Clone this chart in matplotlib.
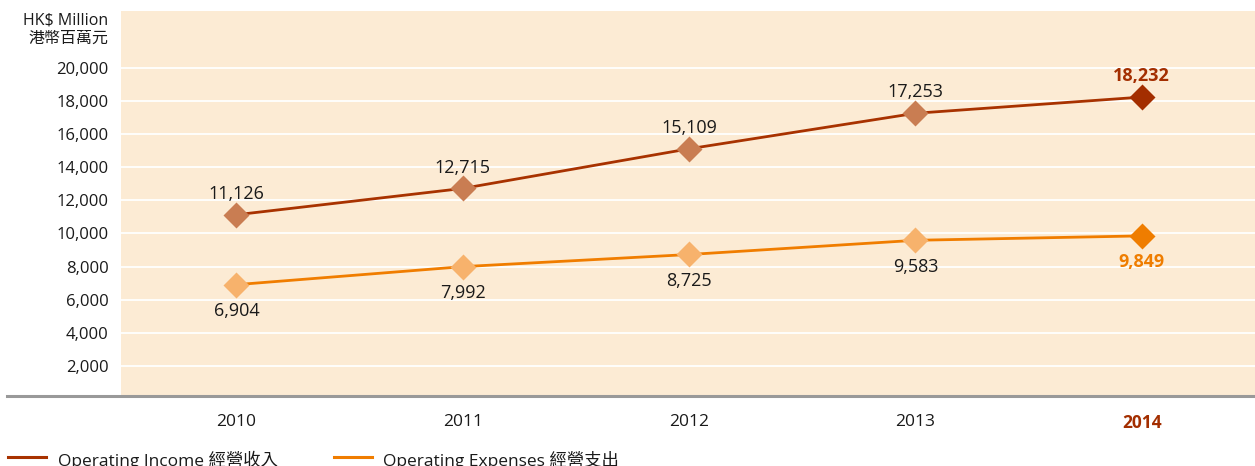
import matplotlib
matplotlib.use("Agg")
import matplotlib.pyplot as plt
from matplotlib.lines import Line2D

plt.rcParams['font.family'] = ['Open Sans', 'Noto Sans CJK TC', 'DejaVu Sans']

years = ["2010", "2011", "2012", "2013", "2014"]
income = [11126, 12715, 15109, 17253, 18232]
expenses = [6904, 7992, 8725, 9583, 9849]
yticks = [2000, 4000, 6000, 8000, 10000, 12000, 14000, 16000, 18000, 20000]
income_label = "Operating Income 經營收入"
expense_label = "Operating Expenses 經營支出"
unit_label = "HK$ Million\n港幣百萬元"

BG = "#FCEBD4"
INC_LINE = "#A83200"
INC_MK = "#C97D52"
INC_LAST = "#A32E00"
EXP_LINE = "#F07D00"
EXP_MK = "#F7B26C"
EXP_LAST = "#EF7D00"
TXT = "#1a1a1a"

W, H = 1255, 466
fig = plt.figure(figsize=(W / 100, H / 100), dpi=100)
ax = fig.add_axes([121 / W, 1 - 395 / H, 1 - 121 / W, (395 - 11) / H])
ax.set_facecolor(BG)
for s in ax.spines.values():
    s.set_visible(False)

x = list(range(len(years)))
ax.set_xlim(-0.51, len(years) - 0.5)
ax.set_ylim(240, 23430)

for t in yticks:
    ax.axhline(t, color="white", lw=1.3, zorder=1)

ax.plot(x, income, color=INC_LINE, lw=2.0, zorder=3)
ax.plot(x, expenses, color=EXP_LINE, lw=2.0, zorder=3)
ms = 13
ax.plot(x[:-1], income[:-1], ls="none", marker="D", ms=ms, color=INC_MK, mec="none", zorder=4)
ax.plot(x[-1:], income[-1:], ls="none", marker="D", ms=ms, color=INC_LAST, mec="none", zorder=4)
ax.plot(x[:-1], expenses[:-1], ls="none", marker="D", ms=ms, color=EXP_MK, mec="none", zorder=4)
ax.plot(x[-1:], expenses[-1:], ls="none", marker="D", ms=ms, color=EXP_LAST, mec="none", zorder=4)

n = len(years)
for i, (xi, v) in enumerate(zip(x, income)):
    last = i == n - 1
    ax.annotate(f"{v:,}", (xi, v), xytext=(0, 15), textcoords="offset points",
                ha="center", va="center", fontsize=13,
                color=INC_LAST if last else TXT,
                fontweight="bold" if last else "normal", zorder=5)
for i, (xi, v) in enumerate(zip(x, expenses)):
    last = i == n - 1
    ax.annotate(f"{v:,}", (xi, v), xytext=(0, -19), textcoords="offset points",
                ha="center", va="center", fontsize=13,
                color=EXP_LAST if last else TXT,
                fontweight="bold" if last else "normal", zorder=5)

ax.set_yticks(yticks)
ax.set_yticklabels([f"{t:,}" for t in yticks], fontsize=12, color=TXT)
ax.set_xticks(x)
ax.set_xticklabels(years, fontsize=12.5, color=TXT)
for i, lab in enumerate(ax.get_xticklabels()):
    if i == n - 1:
        lab.set_color(INC_LAST)
        lab.set_fontweight("bold")
ax.tick_params(axis="both", length=0)
ax.tick_params(axis="y", pad=9)
ax.tick_params(axis="x", pad=14)

fig.text(108 / W, 1 - 30 / H, unit_label, ha="right", va="center", fontsize=11.5,
         color=TXT, linespacing=1.2)

# baseline
fig.add_artist(Line2D([7 / W, 1.0], [1 - 395.5 / H, 1 - 395.5 / H], color="#999999", lw=2.2,
                      transform=fig.transFigure))

# legend
ly = 1 - 457 / H
ty = 1 - 460 / H
fig.add_artist(Line2D([8 / W, 46 / W], [ly, ly], color=INC_LINE, lw=2.2, transform=fig.transFigure))
fig.text(58 / W, ty, income_label, ha="left", va="center", fontsize=12.5, color=TXT)
fig.add_artist(Line2D([334 / W, 372 / W], [ly, ly], color=EXP_LINE, lw=2.2, transform=fig.transFigure))
fig.text(383 / W, ty, expense_label, ha="left", va="center", fontsize=12.5, color=TXT)

fig.savefig("out.png", dpi=100, facecolor="white")
